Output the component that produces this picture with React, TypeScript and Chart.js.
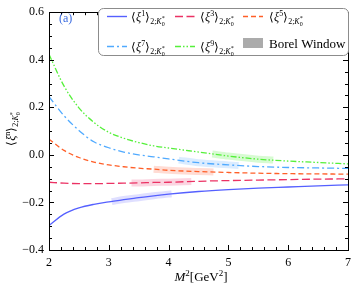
import { useEffect, useRef } from 'react';
import { Chart, registerables } from 'chart.js';
Chart.register(...registerables);

const m2 = [2, 2.25, 2.5, 2.75, 3, 3.25, 3.5, 3.75, 4, 4.5, 5, 5.5, 6, 6.5, 7];
const xi1 = [-0.297, -0.249, -0.223, -0.208, -0.198, -0.188, -0.18, -0.172, -0.165, -0.154, -0.146, -0.14, -0.135, -0.13, -0.126];
const xi3 = [-0.115, -0.119, -0.121, -0.121, -0.12, -0.119, -0.118, -0.116, -0.115, -0.111, -0.108, -0.106, -0.104, -0.102, -0.101];
const xi5 = [0.066, 0.019, -0.011, -0.03, -0.042, -0.05, -0.056, -0.06, -0.065, -0.07, -0.074, -0.077, -0.079, -0.08, -0.081];
const xi7 = [0.245, 0.165, 0.103, 0.055, 0.03, 0.012, 0.0, -0.008, -0.017, -0.033, -0.042, -0.049, -0.053, -0.055, -0.057];
const xi9 = [0.423, 0.29, 0.198, 0.137, 0.095, 0.07, 0.052, 0.038, 0.029, 0.012, -0.005, -0.018, -0.026, -0.032, -0.038];

// Borel windows: [start M2, value at start, end M2, value at end]
const borel1 = [3.05, -0.196, 4.05, -0.164];
const borel3 = [3.38, -0.118, 4.38, -0.112];
const borel5 = [3.75, -0.06, 4.75, -0.072];
const borel7 = [4.17, -0.022, 5.17, -0.045];
const borel9 = [4.73, 0.004, 5.75, -0.022];

const seriesOrders = ['1', '3', '5', '7', '9'];
const xTicks = [2, 3, 4, 5, 6, 7];
const yTicks = [-0.4, -0.2, 0.0, 0.2, 0.4, 0.6];

const colors = ['#5560FF', '#EB3264', '#FF5F28', '#50AAFF', '#55F03A'];
const bandColors = ['rgba(110,110,255,0.22)', 'rgba(240,80,130,0.24)', 'rgba(255,120,90,0.26)', 'rgba(90,170,255,0.22)', 'rgba(100,240,80,0.26)'];
const dashes: number[][] = [[], [8, 3.5], [5, 3], [7, 3, 2, 3], [6, 2, 1.5, 2, 1.5, 2]];

const SERIF = "'Liberation Serif', 'Times New Roman', serif";

type Part = { t: string; s: number; it?: boolean; dy?: number; t2?: string; dy2?: number };

function richWidth(ctx: CanvasRenderingContext2D, parts: Part[]) {
  let w = 0;
  for (const p of parts) {
    ctx.font = `${p.it ? 'italic ' : ''}${p.s}px ${SERIF}`;
    let pw = ctx.measureText(p.t).width;
    if (p.t2) pw = Math.max(pw, ctx.measureText(p.t2).width);
    w += pw;
  }
  return w;
}

function drawRich(ctx: CanvasRenderingContext2D, x: number, y: number, parts: Part[]) {
  let cx = x;
  ctx.textBaseline = 'alphabetic';
  ctx.textAlign = 'left';
  for (const p of parts) {
    ctx.font = `${p.it ? 'italic ' : ''}${p.s}px ${SERIF}`;
    ctx.fillText(p.t, cx, y + (p.dy || 0));
    let pw = ctx.measureText(p.t).width;
    if (p.t2) {
      ctx.fillText(p.t2, cx, y + (p.dy2 || 0));
      pw = Math.max(pw, ctx.measureText(p.t2).width);
    }
    cx += pw;
  }
}

function momentParts(k: string, s = 12): Part[] {
  const sm = Math.round(s * 0.68);
  const ss = Math.round(s * 0.5);
  return [
    { t: '\u27E8', s },
    { t: 'ξ', s, it: true },
    { t: k, s: sm, dy: -5 },
    { t: '\u27E9', s },
    { t: '2;', s: sm, dy: 3 },
    { t: 'K', s: sm, it: true, dy: 3 },
    { t: '0', s: ss, dy: 5, t2: '*', dy2: -1 },
  ];
}

function bandData(b: number[], xs: number[], ys: number[]) {
  const pts = [{ x: b[0], y: b[1] }];
  xs.forEach((x, i) => {
    if (x > b[0] && x < b[2]) pts.push({ x, y: ys[i] });
  });
  pts.push({ x: b[2], y: b[3] });
  return pts;
}

const decorPlugin = {
  id: 'decor',
  afterDatasetsDraw(chart: any) {
    const ctx: CanvasRenderingContext2D = chart.ctx;
    const { left, right, top, bottom } = chart.chartArea;
    const xs = chart.scales.x;
    const ys = chart.scales.y;
    ctx.save();
    ctx.strokeStyle = '#000';
    ctx.lineWidth = 1;
    ctx.beginPath();
    for (let i = 0; i <= 25; i++) {
      const v = 2 + i * 0.2;
      const px = Math.round(xs.getPixelForValue(v)) + 0.5;
      const len = i % 5 === 0 ? 5 : 3;
      ctx.moveTo(px, bottom); ctx.lineTo(px, bottom - len);
      ctx.moveTo(px, top); ctx.lineTo(px, top + len);
    }
    for (let i = 0; i <= 20; i++) {
      const v = -0.4 + i * 0.05;
      const py = Math.round(ys.getPixelForValue(v)) + 0.5;
      const len = i % 4 === 0 ? 5 : 3;
      ctx.moveTo(left, py); ctx.lineTo(left + len, py);
      ctx.moveTo(right, py); ctx.lineTo(right - len, py);
    }
    ctx.stroke();
    ctx.strokeRect(Math.round(left) + 0.5, Math.round(top) + 0.5, Math.round(right - left), Math.round(bottom - top));
    ctx.restore();
  },
  afterDraw(chart: any) {
    const ctx: CanvasRenderingContext2D = chart.ctx;
    ctx.save();
    ctx.fillStyle = '#3A6BE0';
    ctx.font = `12px ${SERIF}`;
    ctx.textBaseline = 'alphabetic';
    ctx.fillText('(a)', 59, 22);

    const bx = 98.5, by = 8.5, bw = 250, bh = 47, r = 5;
    ctx.beginPath();
    ctx.moveTo(bx + r, by);
    ctx.lineTo(bx + bw - r, by);
    ctx.arcTo(bx + bw, by, bx + bw, by + r, r);
    ctx.lineTo(bx + bw, by + bh - r);
    ctx.arcTo(bx + bw, by + bh, bx + bw - r, by + bh, r);
    ctx.lineTo(bx + r, by + bh);
    ctx.arcTo(bx, by + bh, bx, by + bh - r, r);
    ctx.lineTo(bx, by + r);
    ctx.arcTo(bx, by, bx + r, by, r);
    ctx.closePath();
    ctx.fillStyle = '#fff';
    ctx.fill();
    ctx.strokeStyle = '#8c8c8c';
    ctx.lineWidth = 1;
    ctx.stroke();

    const cols = [107, 175, 243];
    const textX = [131, 200, 269];
    const rowsY = [16.5, 46.5];
    const baseY = [20.5, 50.5];
    const slots = [[0, 0], [0, 1], [0, 2], [1, 0], [1, 1]];
    slots.forEach(([row, col], i) => {
      ctx.strokeStyle = colors[i];
      ctx.lineWidth = 1.4;
      ctx.setLineDash(dashes[i]);
      ctx.beginPath();
      ctx.moveTo(cols[col], rowsY[row]);
      ctx.lineTo(cols[col] + 20, rowsY[row]);
      ctx.stroke();
      ctx.setLineDash([]);
      ctx.fillStyle = '#000';
      drawRich(ctx, textX[col], baseY[row], momentParts(seriesOrders[i], 12));
    });
    ctx.fillStyle = '#ababab';
    ctx.fillRect(243, 38, 20, 10);
    ctx.fillStyle = '#000';
    ctx.font = `13px ${SERIF}`;
    ctx.fillText('Borel Window', 269, 48);

    ctx.save();
    ctx.translate(15, 129);
    ctx.rotate(-Math.PI / 2);
    const yp = momentParts('n', 12);
    const yw = richWidth(ctx, yp);
    ctx.fillStyle = '#000';
    drawRich(ctx, -yw / 2, 0, yp);
    ctx.restore();

    const xp: Part[] = [
      { t: 'M', s: 13, it: true },
      { t: '2', s: 9, dy: -5 },
      { t: '[GeV', s: 13 },
      { t: '2', s: 9, dy: -5 },
      { t: ']', s: 13 },
    ];
    const xw = richWidth(ctx, xp);
    ctx.fillStyle = '#000';
    drawRich(ctx, 201 - xw / 2, 281, xp);
    ctx.restore();
  },
};

export default function App() {
  const ref = useRef<HTMLCanvasElement | null>(null);
  useEffect(() => {
    if (!ref.current) return;
    let chart: Chart | null = null;
    let cancelled = false;
    const build = () => {
      if (cancelled || !ref.current) return;
      const series = [xi1, xi3, xi5, xi7, xi9];
      const borels = [borel1, borel3, borel5, borel7, borel9];
      const lineSets = series.map((ys, i) => ({
        label: `xi${seriesOrders[i]}`,
        data: m2.map((x, j) => ({ x, y: ys[j] })),
        borderColor: colors[i],
        borderWidth: 1.3,
        borderDash: dashes[i],
        pointRadius: 0,
        fill: false,
        cubicInterpolationMode: 'monotone' as const,
        order: 1,
      }));
      const bandSets = borels.map((b, i) => ({
        label: `band${seriesOrders[i]}`,
        data: bandData(b, m2, series[i]),
        borderColor: bandColors[i],
        borderWidth: 7,
        borderCapStyle: 'butt' as const,
        pointRadius: 0,
        fill: false,
        cubicInterpolationMode: 'monotone' as const,
        order: 5,
      }));
      chart = new Chart(ref.current, {
        type: 'line',
        data: { datasets: [...bandSets, ...lineSets] as any },
        options: {
          animation: false,
          responsive: false,
          layout: { padding: { top: 7, right: 4, left: 0, bottom: 0 } },
          plugins: { legend: { display: false }, tooltip: { enabled: false } },
          scales: {
            x: {
              type: 'linear',
              min: 2,
              max: 7,
              afterBuildTicks: (s: any) => { s.ticks = xTicks.map((v) => ({ value: v })); },
              afterFit: (s: any) => { s.height = 41; },
              grid: { display: false, drawTicks: false },
              border: { display: false },
              ticks: {
                padding: 6,
                color: '#000',
                font: { family: SERIF, size: 12 },
                callback: (v: any) => String(v),
              },
            },
            y: {
              type: 'linear',
              min: -0.4,
              max: 0.6,
              afterBuildTicks: (s: any) => { s.ticks = yTicks.map((v) => ({ value: v })); },
              afterFit: (s: any) => { s.width = 49; },
              grid: { display: false, drawTicks: false },
              border: { display: false },
              ticks: {
                padding: 5,
                color: '#000',
                font: { family: SERIF, size: 12 },
                callback: (v: any) => {
                  const n = Number(v);
                  const s = Math.abs(n).toFixed(1);
                  return n < -1e-9 ? '\u2212' + s : s;
                },
              },
            },
          },
        },
        plugins: [decorPlugin],
      });
    };
    const fonts: any = (document as any).fonts;
    if (fonts && fonts.load) {
      Promise.all([
        fonts.load("12px 'Liberation Serif'"),
        fonts.load("italic 12px 'Liberation Serif'"),
      ]).then(build, build);
    } else {
      build();
    }
    return () => {
      cancelled = true;
      if (chart) chart.destroy();
    };
  }, []);
  return (
    <div style={{ position: 'fixed', left: 0, top: 0, width: 357, height: 291, background: '#fff' }}>
      <canvas ref={ref} width={357} height={291} style={{ width: 357, height: 291, display: 'block' }} />
    </div>
  );
}
